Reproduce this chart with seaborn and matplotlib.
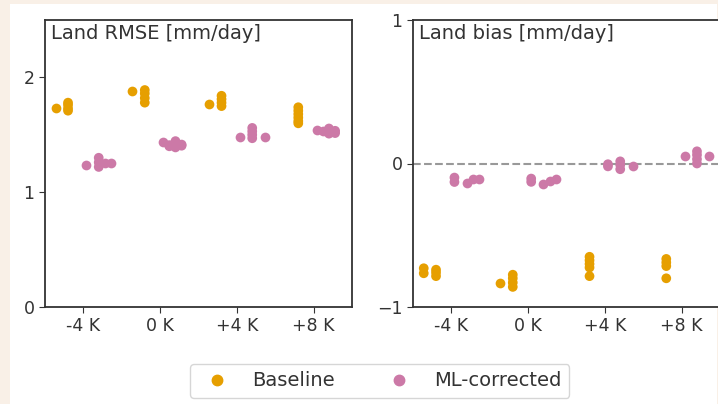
import matplotlib
matplotlib.use("Agg")
import matplotlib.pyplot as plt
import pandas as pd
import seaborn as sns
from matplotlib.lines import Line2D
from matplotlib.patches import Rectangle

scenarios = ["-4 K", "0 K", "+4 K", "+8 K"]
models = ["Baseline", "ML-corrected"]
colors = {"Baseline": "#E69F00", "ML-corrected": "#CC79A7"}

# (member slot, value) per scenario; slot 1 sits next to the tick, slot 5 furthest out
rmse_baseline = [
    [(5, 1.735), (3, 1.78), (3, 1.76), (3, 1.73), (3, 1.71)],
    [(5, 1.88), (3, 1.89), (3, 1.86), (3, 1.82), (3, 1.78)],
    [(5, 1.765), (3, 1.84), (3, 1.81), (3, 1.78), (3, 1.75)],
    [(3, 1.74), (3, 1.71), (3, 1.68), (3, 1.65), (3, 1.62), (3, 1.60)],
]
rmse_corrected = [
    [(1, 1.235), (3, 1.30), (3, 1.26), (3, 1.22), (4, 1.255), (5, 1.255)],
    [(1, 1.44), (2, 1.41), (2, 1.40), (3, 1.445), (3, 1.39), (4, 1.415), (4, 1.405)],
    [(1, 1.485), (3, 1.56), (3, 1.53), (3, 1.50), (3, 1.47), (5, 1.485)],
    [(1, 1.54), (2, 1.53), (3, 1.555), (3, 1.51), (4, 1.535), (4, 1.515)],
]
bias_baseline = [
    [(5, -0.765), (5, -0.73), (3, -0.74), (3, -0.76), (3, -0.785)],
    [(5, -0.83), (3, -0.775), (3, -0.80), (3, -0.83), (3, -0.86)],
    [(3, -0.65), (3, -0.675), (3, -0.70), (3, -0.725), (3, -0.785)],
    [(3, -0.665), (3, -0.69), (3, -0.715), (3, -0.80)],
]
bias_corrected = [
    [(1, -0.098), (1, -0.129), (3, -0.133), (4, -0.11), (5, -0.105)],
    [(1, -0.105), (1, -0.128), (3, -0.145), (4, -0.12), (5, -0.105)],
    [(1, -0.005), (1, -0.02), (3, 0.015), (3, -0.01), (3, -0.04), (5, -0.015)],
    [(1, 0.053), (3, 0.085), (3, 0.06), (3, 0.03), (3, 0.0), (5, 0.053)],
]

member_order = [f"Baseline {s}" for s in range(5, 0, -1)] + \
               [f"ML-corrected {s}" for s in range(1, 6)]
palette = {m: colors[m.rsplit(" ", 1)[0]] for m in member_order}


def to_frame(baseline, corrected):
    rows = []
    for model, groups in zip(models, [baseline, corrected]):
        for scen, pts in zip(scenarios, groups):
            for slot, v in pts:
                rows.append({"scenario": scen, "member": f"{model} {slot}", "value": v})
    return pd.DataFrame(rows)


sns.set_style("ticks")
plt.rcParams.update({
    "font.family": ["DejaVu Sans"],
    "text.color": "#333333",
    "axes.edgecolor": "#333333",
    "axes.linewidth": 1.3,
    "xtick.color": "#333333",
    "ytick.color": "#333333",
    "xtick.labelsize": 12.5,
    "ytick.labelsize": 12.5,
    "xtick.major.size": 4,
    "ytick.major.size": 4,
})

fig = plt.figure(figsize=(7.18, 4.04), dpi=100, facecolor="#f9f0e7")
fig.patches.append(Rectangle((10 / 718, 0), 707 / 718, 400 / 404, transform=fig.transFigure,
                             facecolor="white", edgecolor="none", zorder=-1))

ax1 = fig.add_axes([45 / 718, 97 / 404, 307 / 718, 287 / 404])
ax2 = fig.add_axes([413 / 718, 97 / 404, 307 / 718, 287 / 404])

panels = [
    (ax1, to_frame(rmse_baseline, rmse_corrected), "Land RMSE [mm/day]", (0, 2.5), [0, 1, 2]),
    (ax2, to_frame(bias_baseline, bias_corrected), "Land bias [mm/day]", (-1, 1), [-1, 0, 1]),
]
for ax, df, title, ylim, yticks in panels:
    sns.stripplot(data=df, x="scenario", y="value", hue="member", order=scenarios,
                  hue_order=member_order, palette=palette, dodge=True, jitter=False,
                  size=7, legend=False, ax=ax, zorder=3)
    ax.set_xlabel("")
    ax.set_ylabel("")
    ax.set_ylim(*ylim)
    ax.set_yticks(yticks)
    ax.set_xlim(-0.5, 3.5)
    ax.text(0.018, 0.985, title, transform=ax.transAxes, ha="left", va="top", fontsize=14)

ax2.axhline(0, color="#999999", ls="--", lw=1.5, zorder=1)

handles = [Line2D([], [], marker="o", ls="", color=colors[m], markersize=7.5) for m in models]
fig.legend(handles, models, loc="center", bbox_to_anchor=(0.529, 0.057), ncol=2,
           fontsize=14, columnspacing=2.3, frameon=True)

fig.savefig("out.png", dpi=100, facecolor=fig.get_facecolor())
